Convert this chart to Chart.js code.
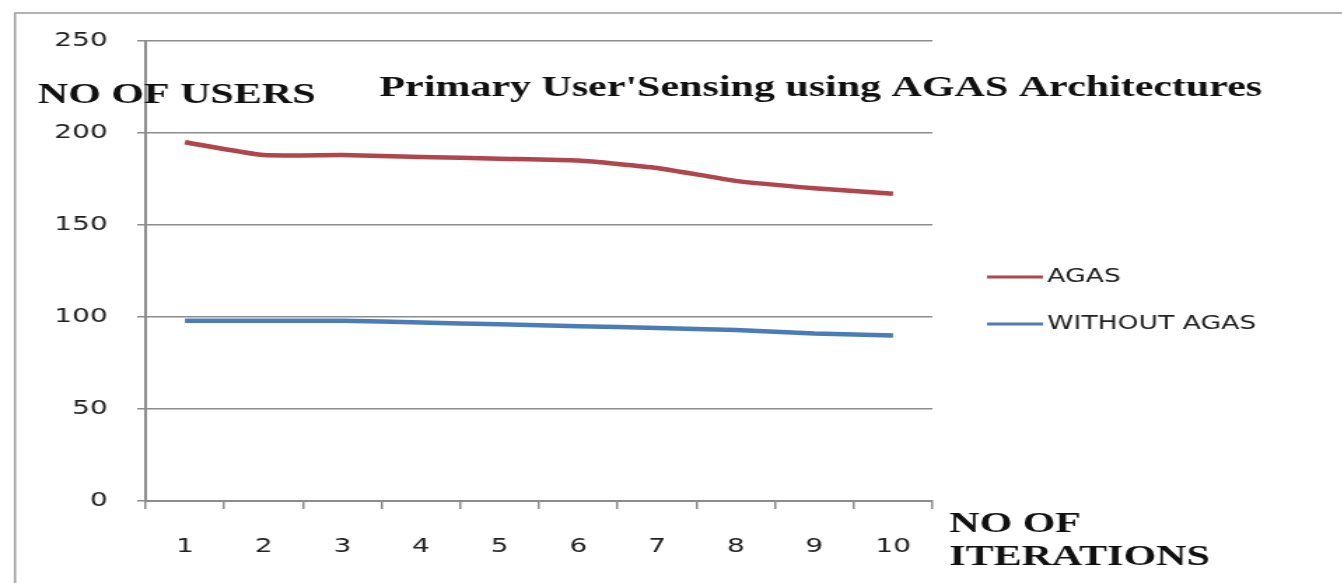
<!DOCTYPE html>
<html><head><meta charset="utf-8">
<script src="https://cdn.jsdelivr.net/npm/chart.js@4"></script>
<style>
html,body{margin:0;padding:0;background:#fff;overflow:hidden;width:1342px;height:583px}
#wrap{width:959px;height:583px;transform:scaleX(1.4);transform-origin:0 0}
canvas{display:block}
</style></head>
<body><div id="wrap"><canvas id="c" width="959" height="583"></canvas></div>
<script>
const categories = ['1','2','3','4','5','6','7','8','9','10'];
const agasValues = [195, 188, 188, 187, 186, 185, 181, 174, 170, 167];
const withoutAgasValues = [98, 98, 98, 97, 96, 95, 94, 93, 91, 90];
const yTickValues = [0, 50, 100, 150, 200, 250];
const seriesNames = ['AGAS', 'WITHOUT AGAS'];
const chartTitle = "Primary User'Sensing using AGAS Architectures";
const yAxisTitle = 'NO OF USERS';
const xAxisTitleLines = ['NO OF', 'ITERATIONS'];

const GRID = '#8c8c8c';
const TEXT = '#222222';

const decor = {
  id: 'decor',
  beforeDraw(chart) {
    const ctx = chart.ctx;
    ctx.save();
    ctx.fillStyle = '#ffffff';
    ctx.fillRect(0, 0, chart.width, chart.height);
    ctx.strokeStyle = '#9a9a9a';
    ctx.lineWidth = 1.5;
    ctx.beginPath();
    ctx.moveTo(10.7, chart.height);
    ctx.lineTo(10.7, 13);
    ctx.lineTo(chart.width, 13);
    ctx.stroke();
    ctx.restore();
  },
  afterDraw(chart) {
    const ctx = chart.ctx;
    const ca = chart.chartArea;
    ctx.save();
    ctx.fillStyle = '#111111';
    ctx.textBaseline = 'alphabetic';
    ctx.textAlign = 'left';
    ctx.font = 'bold 30px "Liberation Serif"';
    ctx.fillText(yAxisTitle, 27, 103);
    ctx.fillText(chartTitle, 271, 96);
    ctx.fillText(xAxisTitleLines[0], ca.right + 12, 532);
    ctx.fillText(xAxisTitleLines[1], ca.right + 12, 565);
    // legend
    ctx.font = '19px "DejaVu Sans"';
    ctx.textBaseline = 'middle';
    chart.data.datasets.forEach((ds, i) => {
      const y = 277 + i * 47;
      ctx.strokeStyle = ds.borderColor;
      ctx.lineWidth = 3;
      ctx.beginPath();
      ctx.moveTo(ca.right + 39, y);
      ctx.lineTo(ca.right + 79, y);
      ctx.stroke();
      ctx.fillStyle = TEXT;
      ctx.fillText(ds.label, ca.right + 82, y);
    });
    ctx.restore();
  }
};

new Chart(document.getElementById('c'), {
  type: 'line',
  data: {
    labels: categories,
    datasets: [
      { label: seriesNames[0], data: agasValues, borderColor: '#B0464B', borderWidth: 4.5, pointRadius: 0, tension: 0.15 },
      { label: seriesNames[1], data: withoutAgasValues, borderColor: '#4A7DB8', borderWidth: 4.5, pointRadius: 0, tension: 0.15 }
    ]
  },
  options: {
    responsive: false,
    animation: false,
    layout: { padding: { left: 0, right: 293, top: 41, bottom: 0 } },
    plugins: { legend: { display: false }, tooltip: { enabled: false }, title: { display: false } },
    scales: {
      x: {
        offset: true,
        afterFit: s => { s.height = 82; },
        grid: { display: true, drawOnChartArea: false, offset: true, tickLength: 8, color: GRID, lineWidth: 1.5 },
        border: { display: true, color: GRID, width: 2 },
        ticks: { color: TEXT, font: { family: 'DejaVu Sans', size: 20 }, padding: 26, maxRotation: 0 }
      },
      y: {
        min: 0, max: 250,
        afterFit: s => { s.width = 104; },
        afterBuildTicks: s => { s.ticks = yTickValues.map(v => ({ value: v })); },
        grid: { color: GRID, lineWidth: 1.5, tickLength: 6 },
        border: { display: true, color: GRID, width: 2 },
        ticks: { color: TEXT, font: { family: 'DejaVu Sans', size: 20 }, padding: 21 }
      }
    }
  },
  plugins: [decor]
});
</script>
</body></html>
